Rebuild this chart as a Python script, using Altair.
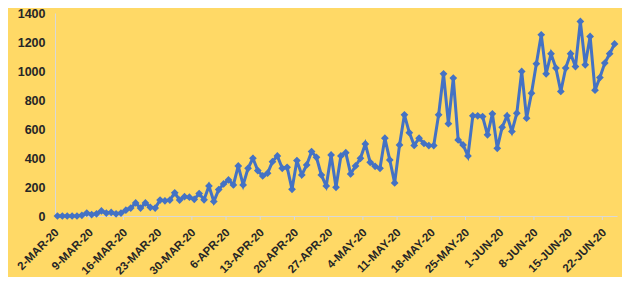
import altair as alt
import pandas as pd

# Daily values, 2-Mar-20 .. 24-Jun-20 (115 days)
values = [
    0, 0, 0, 0, 0, 5, 20, 10, 15, 35,
    20, 25, 15, 20, 40, 55, 90, 55, 90, 60,
    55, 110, 105, 110, 160, 110, 133, 130, 115, 155,
    112, 207, 100, 182, 221, 249, 214, 345, 214, 329,
    398, 313, 276, 295, 375, 414, 329, 336, 184, 382,
    283, 352, 444, 405, 283, 207, 421, 198, 414, 437,
    290, 345, 398, 497, 370, 343, 329, 537, 387, 228,
    490, 698, 575, 487, 537, 500, 486, 486, 698, 981,
    637, 951, 525, 490, 414, 691, 691, 686, 560, 705,
    467, 612, 691, 583, 709, 997, 675, 847, 1050, 1250,
    981, 1119, 1020, 859, 1020, 1119, 1031, 1342, 1043, 1238,
    868, 955, 1055, 1119, 1187,
]
day_index = list(range(len(values)))

tick_labels = [
    "2-MAR-20", "9-MAR-20", "16-MAR-20", "23-MAR-20", "30-MAR-20",
    "6-APR-20", "13-APR-20", "20-APR-20", "27-APR-20", "4-MAY-20",
    "11-MAY-20", "18-MAY-20", "25-MAY-20", "1-JUN-20", "8-JUN-20",
    "15-JUN-20", "22-JUN-20",
]
label_positions = [7 * k for k in range(len(tick_labels))]
tick_positions = [7 * k + 6.5 for k in range(16)]

y_ticks = [0, 200, 400, 600, 800, 1000, 1200, 1400]

df = pd.DataFrame({"day": day_index, "value": values})
ticks_df = pd.DataFrame({"t": tick_positions})
labels_df = pd.DataFrame({"pos": label_positions, "lab": tick_labels})

W, H = 562, 203
FONT = "Liberation Sans"
TXT = "#262626"
AXC = "#D9D9D9"

x_scale = alt.Scale(domain=[-0.5, len(values) - 0.5], nice=False, zero=False)

line = alt.Chart(df).mark_line(
    color="#4472C4",
    strokeWidth=3,
    point=alt.OverlayMarkDef(shape="diamond", size=60, filled=True, color="#4472C4"),
).encode(
    x=alt.X("day:Q", scale=x_scale,
            axis=alt.Axis(values=label_positions, labels=False, ticks=False,
                          domainColor=AXC, domainWidth=1.2, grid=False, title=None)),
    y=alt.Y("value:Q", scale=alt.Scale(domain=[0, 1400], nice=False),
            axis=alt.Axis(values=y_ticks, format="d", labelFont=FONT, labelFontSize=12.5,
                          labelFontWeight="bold", labelColor=TXT, labelPadding=10,
                          ticks=False, domainColor=AXC, domainWidth=1,
                          grid=False, title=None)),
)

tick_rules = alt.Chart(ticks_df).mark_rule(color=AXC, strokeWidth=1).encode(
    x=alt.X("t:Q", scale=x_scale),
    y=alt.value(H),
    y2=alt.value(H + 4),
)

x_labels = alt.Chart(labels_df).mark_text(
    angle=315, align="right", baseline="middle",
    font=FONT, fontSize=11.5, fontWeight="bold", color=TXT,
    dx=0, dy=0,
).encode(
    x=alt.X("pos:Q", scale=x_scale),
    y=alt.value(H + 15),
    text="lab:N",
)

chart = alt.layer(tick_rules, line, x_labels).properties(
    width=W,
    height=H,
    background="#FFD966",
    autosize=alt.AutoSizeParams(type="none"),
    padding={"left": 47, "top": 5, "right": 5, "bottom": 61},
).configure_view(stroke=None)

chart.save("out.html", embed_options={"renderer": "svg", "actions": False})
